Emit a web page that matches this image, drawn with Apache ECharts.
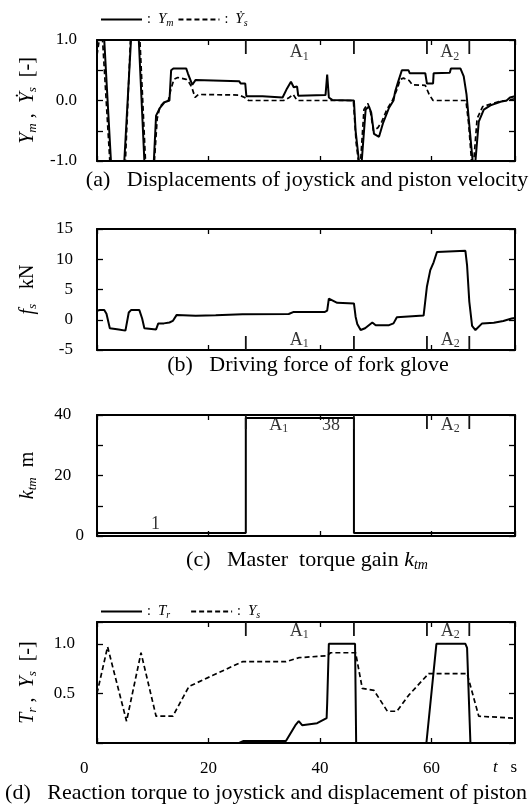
<!DOCTYPE html>
<html>
<head>
<meta charset="utf-8">
<script src="https://cdn.jsdelivr.net/npm/echarts@6/dist/echarts.min.js"></script>
<style>
html, body { margin: 0; padding: 0; background: #fff; }
#chart { width: 530px; height: 809px; }
</style>
</head>
<body>
<div id="chart"></div>
<script>
// time axis, s
const tMin = 0, tMax = 75
// start / end of intervals A1 and A2
const markT = [26.7, 46.1, 59.2, 66.8]

// (a) joystick displacement Ym  [t, value]
const ymData = [[0,1.0],[1.3,1.0],[2.5,-1.0],[4.9,-1.0],[6.1,1.0],[7.5,1.0],[8.5,-1.0],[10.2,-1.0],[10.6,-0.25],[11.3,-0.12],
  [12.1,-0.03],[13.0,0.0],[13.3,0.5],[13.7,0.53],[16.0,0.53],[16.3,0.45],[17.1,0.26],[17.7,0.34],[25.5,0.32],[25.8,0.28],
  [26.6,0.28],[26.8,0.07],[29.7,0.07],[33.3,0.05],[34.1,0.2],[34.8,0.31],[35.3,0.22],[35.9,0.23],[36.1,0.08],[41.0,0.09],
  [41.3,0.43],[41.6,0.05],[42.2,0.01],[46.1,0.0],[46.4,-0.5],[47.0,-1.0],[47.5,-1.0],[48.2,-0.15],[48.8,-0.1],[49.2,-0.2],
  [49.7,-0.55],[50.6,-0.6],[51.3,-0.38],[52.4,-0.12],[53.2,0.0],[53.5,0.15],[54.0,0.3],[54.7,0.5],[55.9,0.5],[56.1,0.45],
  [58.9,0.45],[59.2,0.28],[60.3,0.28],[60.4,0.45],[63.3,0.46],[63.5,0.53],[65.2,0.53],[65.8,0.4],[66.3,0.1],[66.9,-0.5],
  [67.4,-1.0],[67.9,-1.0],[68.5,-0.35],[69.4,-0.15],[70.6,-0.08],[72.4,-0.02],[73.5,0.0],[74.1,0.05],[75,0.07]]
// (a) piston velocity dYs/dt
const ysDotData = [[0,0.75],[0.4,1.0],[1.0,1.0],[2.3,-1.0],[5.1,-1.0],[6.0,1.0],[7.7,1.0],[8.7,-1.0],[10.3,-1.0],[10.8,-0.3],
  [11.3,-0.1],[12.0,-0.03],[12.8,0.0],[13.3,0.2],[13.8,0.35],[14.5,0.38],[16.0,0.35],[16.5,0.3],[17.0,0.22],[17.6,0.05],
  [18.2,0.1],[25.5,0.09],[26.5,0.05],[27.2,0.0],[33.5,0.0],[34.5,0.05],[35.2,0.1],[35.9,0.0],[46.0,0.0],[46.5,-0.7],
  [46.9,-1.0],[47.3,-1.0],[47.9,-0.15],[48.6,-0.05],[49.0,-0.15],[49.6,-0.5],[50.4,-0.45],[51.1,-0.35],[52.0,-0.15],[53.0,0.0],
  [53.9,0.2],[54.4,0.35],[55.0,0.37],[56.0,0.33],[56.6,0.26],[58.9,0.25],[59.6,0.1],[60.3,0.0],[66.2,0.0],[66.7,-0.4],
  [67.2,-1.0],[67.6,-1.0],[68.2,-0.3],[69.2,-0.1],[72.0,-0.02],[73.5,0.0],[75,0.03]]

// (b) driving force fs, kN
const fsData = [[0,1.5],[0.5,1.6],[1.3,1.6],[1.7,1.0],[2.3,-1.4],[3.9,-1.6],[5.1,-1.8],[5.7,1.2],[6.1,1.6],[7.6,1.6],
  [8.1,0.2],[8.5,-1.4],[10.6,-1.6],[11.0,-0.6],[12.0,-0.6],[13.0,-0.45],[13.6,-0.2],[14.3,0.8],[17.7,0.65],[21.3,0.75],
  [26.1,0.9],[34.4,0.95],[35.3,1.3],[40.9,1.3],[41.3,1.5],[41.6,3.5],[43.1,2.8],[46.1,2.7],[46.4,0.5],[46.7,-0.7],
  [47.3,-1.7],[48.1,-1.4],[49.4,-0.45],[50.0,-0.9],[52.4,-0.9],[53.2,-0.6],[53.8,0.4],[58.6,0.7],[58.9,1.0],[59.2,5.5],
  [59.8,8.2],[60.4,9.5],[61.0,11.2],[66.1,11.4],[66.4,9.0],[66.8,3.0],[67.3,-1.0],[67.9,-1.7],[69.1,-0.6],[71.2,-0.5],
  [72.9,-0.2],[74.4,0.2],[75,0.3]]

// (c) master torque gain ktm
const ktmData = [[0,1],[26.7,1],[26.7,39],[46.1,39],[46.1,1],[75,1]]

// (d) reaction torque Tr and piston displacement Ys
const trData = [[0,0],[25.5,0],[26.3,0.02],[26.6,0.03],[27.0,0.02],[33.9,0.02],[35.6,0.18],[36.2,0.22],[36.8,0.18],[39.5,0.2],
  [41.2,0.25],[41.3,0.4],[41.6,1.0],[46.3,1.0],[46.5,0],[59.1,0],[60.9,1.0],[66.1,1.0],[66.4,0.96],[67.0,0],[75,0]]
const ysData = [[0,0.5],[1.9,0.97],[5.3,0.22],[7.9,0.91],[10.6,0.27],[13.6,0.27],[16.5,0.57],[20.7,0.68],[26.1,0.82],[33.9,0.82],
  [36.2,0.86],[41.3,0.88],[41.9,0.91],[46.4,0.91],[47.6,0.55],[49.7,0.53],[52.1,0.32],[53.8,0.32],[55.9,0.48],[59.5,0.70],
  [66.4,0.70],[68.5,0.27],[75,0.25]]

// labels inside the panels [t, value, text]
const notesA = [[36.3, 0.79, '{a|A}{s|1}'], [63.3, 0.79, '{a|A}{s|2}']]
const notesB = [[36.3, -3.4, '{a|A}{s|1}'], [63.4, -3.4, '{a|A}{s|2}']]
const notesC = [[32.6, 36.6, '{a|A}{s|1}'], [42, 36.6, '{a|38}'], [63.4, 36.6, '{a|A}{s|2}'], [10.5, 4, '{a|1}']]
const notesD = [[36.3, 1.13, '{a|A}{s|1}'], [63.4, 1.13, '{a|A}{s|2}']]

const font = "'Liberation Serif', 'Times New Roman', serif"
const black = '#000'

const grids = [
  { left: 97, right: 15, top: 40, height: 121 },
  { left: 97, right: 15, top: 229, height: 121 },
  { left: 97, right: 15, top: 415, height: 121 },
  { left: 97, right: 15, top: 622, height: 121 },
]

const nameRich = {
  n: { fontFamily: font, fontSize: 20, color: black },
  i: { fontFamily: font, fontSize: 20, fontStyle: 'italic', color: black },
  sub: { fontFamily: font, fontSize: 13, fontStyle: 'italic', color: black, padding: [9, 0, 0, 0] },
}

// x axes: bottom and top of each panel
let xAxis = []
grids.forEach((g, i) => {
  const base = {
    gridIndex: i, type: 'value', min: tMin, max: tMax, interval: 20,
    splitLine: { show: false },
    axisLine: { show: true, onZero: false, lineStyle: { color: black, width: 2 } },
    axisTick: { show: true, inside: true, length: 5, lineStyle: { color: black, width: 1.3 } },
  }
  xAxis.push(Object.assign({}, base, {
    position: 'bottom',
    axisLabel: {
      show: i === 3, margin: 17, showMaxLabel: false, alignMinLabel: 'right',
      fontFamily: font, fontSize: 17, color: black,
      formatter: v => (v === 0 ? '0  ' : String(v)),
    },
  }))
  xAxis.push(Object.assign({}, base, { position: 'top', axisLabel: { show: false } }))
})

const yCfg = [
  { min: -1, max: 1, interval: 0.5, margin: 20, fmt: v => (Math.abs(v) === 0.5 ? '' : v.toFixed(1)),
    name: '{i|Y}{sub|m}{n| ,  }{i|Ẏ}{sub|s}{n|  [-]}' },
  { min: -5, max: 15, interval: 5, margin: 24, fmt: v => String(v), name: '{i|f}{sub|s}{n|   kN}' },
  { min: 0, max: 40, interval: 10, margin: 13, fmt: v => (v === 0 ? '0' : v % 20 === 0 ? v + '   ' : ''),
    name: '{i|k}{sub|tm}{n|  m}' },
  { min: 0, max: 1.22, interval: 0.5, margin: 22, fmt: v => (v === 0 || v > 1.1 ? '' : v.toFixed(1)),
    name: '{i|T}{sub|r}{n| ,  }{i|Y}{sub|s}{n|  [-]}' },
]
// A1/A2 marker ticks hang from the top edge, except in (b) where they stand on the bottom edge
const markFromTop = [true, false, true, true]

let yAxis = []
yCfg.forEach((c, i) => {
  const base = {
    gridIndex: i, type: 'value', min: c.min, max: c.max, interval: c.interval,
    splitLine: { show: false },
    axisLine: { show: true, onZero: false, lineStyle: { color: black, width: 2 } },
    axisTick: { show: true, inside: true, length: 6, lineStyle: { color: black, width: 1.3 } },
  }
  yAxis.push(Object.assign({}, base, {
    position: 'left',
    name: c.name, nameLocation: 'middle', nameRotate: 90, nameGap: 58,
    nameTextStyle: { rich: nameRich },
    axisLabel: { margin: c.margin, fontFamily: font, fontSize: 17, color: black, formatter: c.fmt },
  }))
  yAxis.push(Object.assign({}, base, { position: 'right', axisLabel: { show: false } }))
})

const toPairs = d => d.map(p => [p[0], p[1]])

function lineSeries(name, data, i, dashed) {
  return {
    name: name, type: 'line', data: toPairs(data),
    xAxisIndex: i * 2, yAxisIndex: i * 2,
    symbol: 'none', showSymbol: false, silent: true,
    lineStyle: { color: black, width: dashed ? 1.7 : 2, type: dashed ? [5, 3] : 'solid' },
    itemStyle: { color: black },
  }
}

const noteRich = {
  a: { fontFamily: font, fontSize: 18, color: black },
  s: { fontFamily: font, fontSize: 12, color: black, padding: [8, 0, 0, 0] },
}

function noteSeries(notes, i) {
  return {
    type: 'scatter', xAxisIndex: i * 2, yAxisIndex: i * 2, silent: true,
    symbolSize: 1, itemStyle: { color: 'rgba(0,0,0,0)' },
    data: notes.map(n => ({ value: [n[0], n[1]], label: { formatter: n[2] } })),
    label: { show: true, position: 'inside', rich: noteRich },
  }
}

const legendRich = {
  c: { fontFamily: font, fontSize: 14, color: black },
  i: { fontFamily: font, fontSize: 15, fontStyle: 'italic', color: black },
  sub: { fontFamily: font, fontSize: 10, fontStyle: 'italic', color: black, padding: [7, 0, 0, 0] },
}
const legendText = {
  Ym: '{c|:  }{i|Y}{sub|m}',
  Ysdot: '{c|:  }{i|Ẏ}{sub|s}',
  Tr: '{c|:  }{i|T}{sub|r}',
  Ys: '{c|:  }{i|Y}{sub|s}',
}
const legendBase = {
  left: 95, itemWidth: 41, itemHeight: 12, selectedMode: false,
  formatter: n => legendText[n], textStyle: { rich: legendRich },
  itemStyle: { opacity: 0 },
}

function caption(x, y, text, size) {
  return {
    type: 'text', x: x, y: y, silent: true,
    style: {
      text: text, align: 'center', verticalAlign: 'middle',
      fontFamily: font, fontSize: size, fill: black,
      rich: {
        i: { fontFamily: font, fontSize: size, fontStyle: 'italic', fill: black },
        sub: { fontFamily: font, fontSize: Math.round(size * 0.62), fontStyle: 'italic', fill: black, padding: [10, 0, 0, 0] },
      },
    },
  }
}

const captions = [
  caption(307, 180, '(a)   Displacements of joystick and piston velocity', 22),
  caption(308, 365, '(b)   Driving force of fork glove', 22),
  caption(307, 560, '(c)   Master  torque gain {i|k}{sub|tm}', 22),
  caption(266, 793, '(d)   Reaction torque to joystick and displacement of piston', 22),
  caption(505, 768, '{i|t}   s', 17),
]

const chart = echarts.init(document.getElementById('chart'), null, { renderer: 'canvas' })
chart.setOption({
  animation: false,
  backgroundColor: '#fff',
  grid: grids,
  xAxis: xAxis,
  yAxis: yAxis,
  legend: [
    Object.assign({ data: ['Ym', 'Ysdot'], top: 7, itemGap: 4 }, legendBase),
    Object.assign({ data: ['Tr', 'Ys'], top: 599, itemGap: 20 }, legendBase),
  ],
  series: [
    lineSeries('Ym', ymData, 0, false),
    lineSeries('Ysdot', ysDotData, 0, true),
    lineSeries('fs', fsData, 1, false),
    lineSeries('ktm', ktmData, 2, false),
    lineSeries('Tr', trData, 3, false),
    lineSeries('Ys', ysData, 3, true),
    noteSeries(notesA, 0),
    noteSeries(notesB, 1),
    noteSeries(notesC, 2),
    noteSeries(notesD, 3),
  ],
  graphic: captions,
})

// A1 / A2 marker ticks, placed through the axes' own scales
let markers = []
yCfg.forEach((c, i) => {
  const edge = markFromTop[i] ? c.max : c.min
  const dir = markFromTop[i] ? 1 : -1
  markT.forEach(t => {
    const p = chart.convertToPixel({ xAxisIndex: i * 2, yAxisIndex: i * 2 }, [t, edge])
    markers.push({
      type: 'line', silent: true, z: 100,
      shape: { x1: p[0], y1: p[1], x2: p[0], y2: p[1] + dir * 14 },
      style: { stroke: '#111111', lineWidth: 1.8 },
    })
  })
})
chart.setOption({ graphic: captions.concat(markers) })
</script>
</body>
</html>
